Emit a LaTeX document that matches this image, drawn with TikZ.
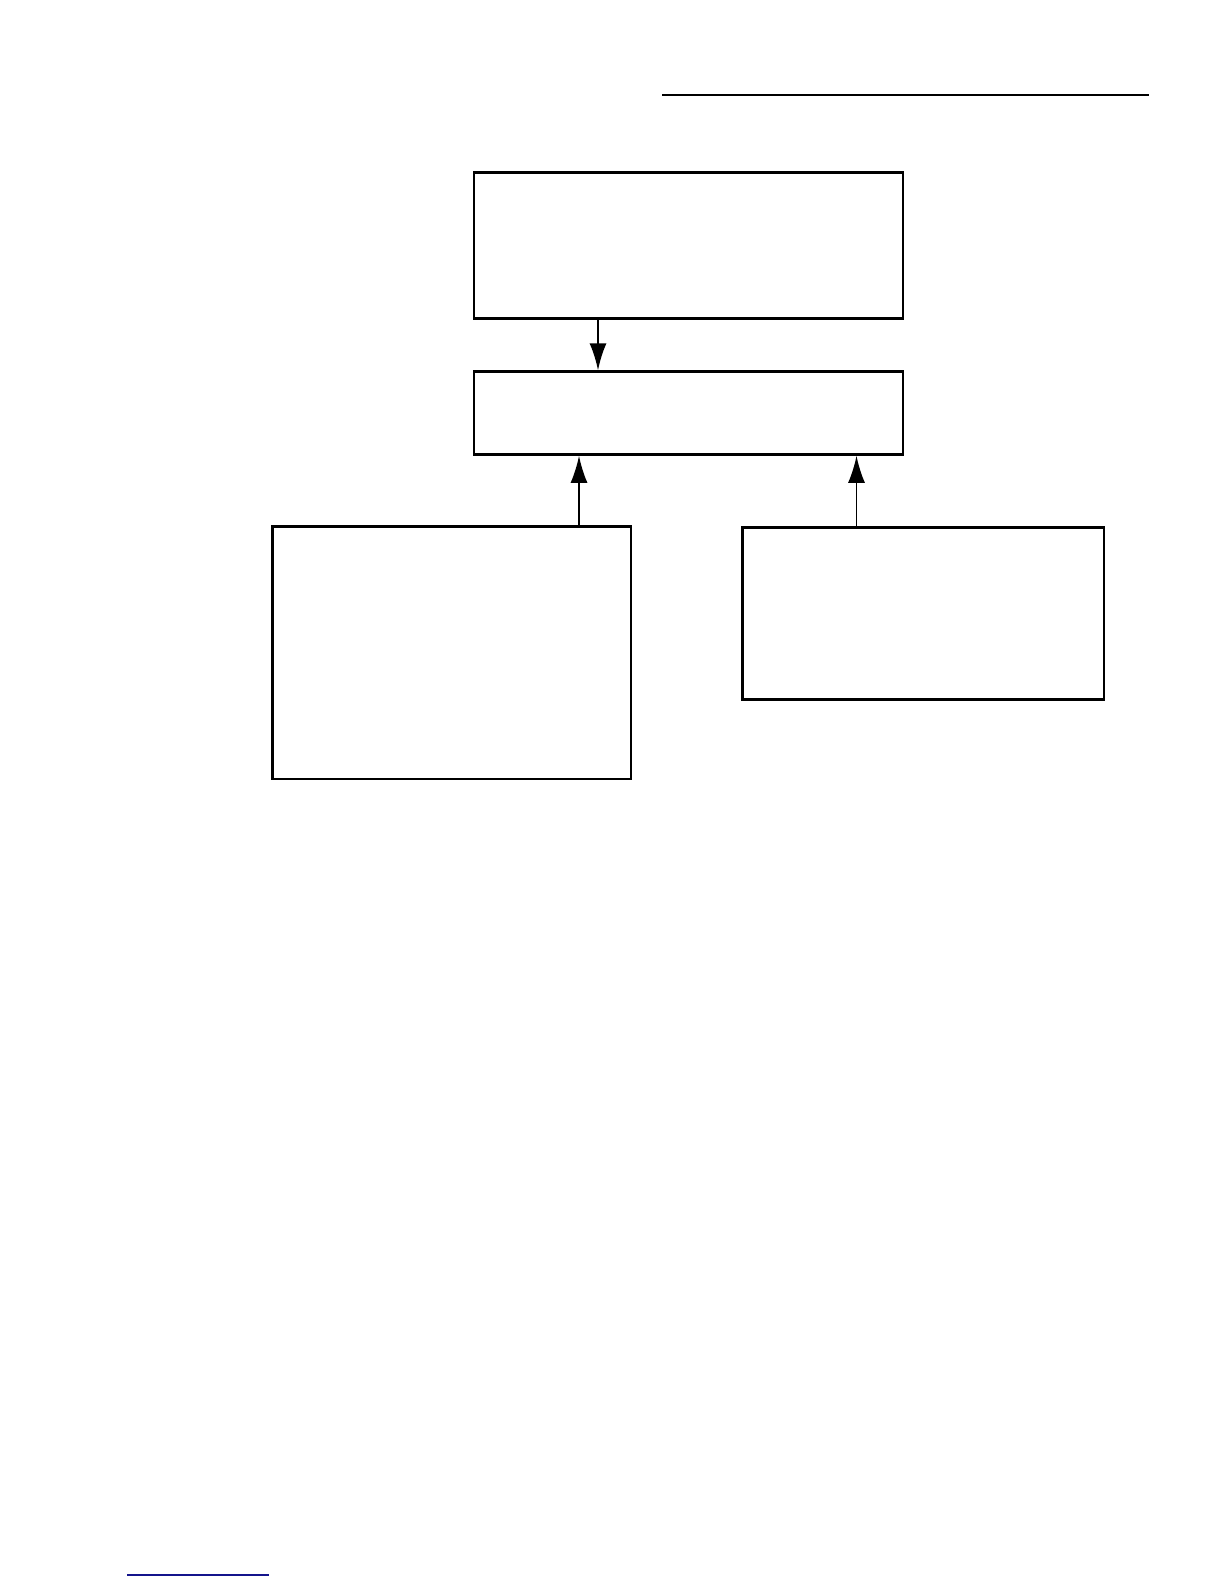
\documentclass[tikz,border=0pt]{standalone}
\usetikzlibrary{arrows.meta}
\begin{document}
\begin{tikzpicture}[x=1bp,y=-1bp,
  box/.style={draw=black,line width=2.6bp,rectangle,inner sep=0pt},
  conn/.style={line width=1.8bp,-{Latex[length=27bp,width=17bp]}}]
\useasboundingbox (0,0) rectangle (1224,1584);
\fill[white] (0,0) rectangle (1224,1584);
\node[box,minimum width=429bp,minimum height=146bp] (top) at (688.5,245.7) {};
\node[box,minimum width=429bp,minimum height=82.8bp] (mid) at (688.5,413.1) {};
\node[box,minimum width=358.3bp,minimum height=252.3bp] (left) at (451.85,652.85) {};
\node[box,minimum width=361.3bp,minimum height=171.6bp] (right) at (923.35,613.5) {};
\coordinate (a1) at ([xshift=-90.5bp]top.south);
\coordinate (a2) at ([xshift=127.15bp]left.north);
\coordinate (a3) at ([xshift=-66.85bp]right.north);
\draw[conn,line width=2.2bp] (a1) -- (a1 |- mid.north);
\draw[conn] (a2) -- (a2 |- mid.south);
\draw[conn] (a3) -- (a3 |- mid.south);
\coordinate (l1) at (662,95);
\coordinate (l2) at (1149,95);
\draw[line width=1.9bp] (l1) -- (l2);
\coordinate (b1) at (127,1575);
\coordinate (b2) at (269,1575);
\draw[line width=1.7bp,color={rgb,255:red,20;green,20;blue,140}] (b1) -- (b2);
\end{tikzpicture}
\end{document}
